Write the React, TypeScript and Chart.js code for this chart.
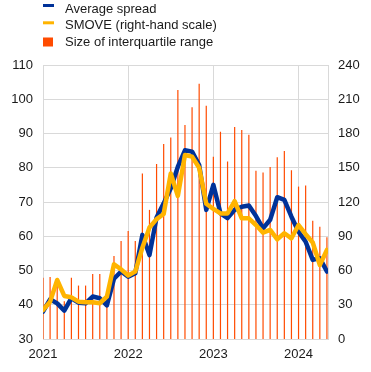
import React, { useEffect, useRef } from 'react';
import { Chart, registerables } from 'chart.js';

Chart.register(...registerables);

// Monthly observations, January 2021 .. May 2024 (index 0 = Jan 2021)
const yearTickMonths = [0, 12, 24, 36];
const yearLabels = ['2021', '2022', '2023', '2024'];

const averageSpread = [
  38.0, 41.6, 40.4, 38.3, 41.9, 40.6, 40.4, 42.4, 41.9, 39.8, 47.6, 49.7,
  48.2, 49.2, 60.4, 54.5, 65.5, 69.6, 74.0, 80.3, 85.1, 84.7, 80.8, 67.7,
  75.0, 66.7, 65.3, 67.7, 68.6, 69.0, 65.9, 62.3, 64.8, 71.4, 70.6, 65.7,
  61.3, 58.4, 53.1, 53.6, 49.7,
];

const smove = [
  25.4, 32.7, 51.7, 37.7, 36.5, 32.7, 32.1, 32.1, 31.3, 37.1, 65.5, 61.0,
  55.6, 59.0, 80.0, 97.7, 105.0, 109.5, 145.0, 125.3, 161.2, 159.7, 150.0, 118.5,
  114.0, 110.0, 110.0, 120.8, 105.7, 105.7, 99.8, 93.1, 95.5, 87.3, 92.6, 88.2,
  99.8, 91.8, 84.5, 64.8, 78.0,
];

const iqrSize = [
  47.9, 48.1, 46.0, 41.0, 47.9, 45.6, 45.6, 49.0, 49.0, 40.0, 54.2, 58.6,
  61.5, 58.6, 78.3, 67.7, 81.1, 86.9, 88.8, 102.7, 92.5, 97.7, 104.5, 98.1,
  83.2, 90.5, 81.8, 91.9, 91.0, 89.6, 79.1, 78.6, 80.2, 83.1, 84.9, 79.3,
  74.5, 74.8, 64.5, 62.8, 59.7,
];

const seriesLabels = ['Average spread', 'SMOVE (right-hand scale)', 'Size of interquartile range'];
const BLUE = '#003299';
const YELLOW = '#FFB400';
const ORANGE = '#FF4B00';
const GRID = '#d9d9d9';
const TEXT = '#1a1a1a';
const FONT_FAMILY = '"Liberation Sans", Arial, sans-serif';

const toPoints = (arr: number[]) => arr.map((v, i) => ({ x: i, y: v }));

const legendPlugin = {
  id: 'stackedLegend',
  afterDraw(chart: any) {
    const ctx = chart.ctx as CanvasRenderingContext2D;
    ctx.save();
    ctx.font = `13px ${FONT_FAMILY}`;
    ctx.textBaseline = 'alphabetic';
    const rows = [
      { label: seriesLabels[0], color: BLUE, box: [43, 4, 11, 3], base: 12.5 },
      { label: seriesLabels[1], color: YELLOW, box: [43, 21.3, 11, 3], base: 29.2 },
      { label: seriesLabels[2], color: ORANGE, box: [43, 37.5, 10, 9], base: 45.9 },
    ];
    rows.forEach((r) => {
      ctx.fillStyle = r.color;
      ctx.fillRect(r.box[0], r.box[1], r.box[2], r.box[3]);
      ctx.fillStyle = TEXT;
      ctx.fillText(r.label, 65, r.base);
    });
    ctx.restore();
  },
};

export default function App() {
  const canvasRef = useRef<HTMLCanvasElement | null>(null);

  useEffect(() => {
    document.body.style.margin = '0';
    const canvas = canvasRef.current;
    if (!canvas) return;
    const chart = new Chart(canvas, {
      type: 'line',
      data: {
        datasets: [
          {
            type: 'line',
            label: seriesLabels[0],
            data: toPoints(averageSpread),
            borderColor: BLUE,
            backgroundColor: BLUE,
            borderWidth: 4.5,
            pointRadius: 0,
            borderJoinStyle: 'round',
            borderCapStyle: 'round',
            tension: 0,
            yAxisID: 'y',
            order: 2,
          },
          {
            type: 'line',
            label: seriesLabels[1],
            data: toPoints(smove),
            borderColor: YELLOW,
            backgroundColor: YELLOW,
            borderWidth: 4.5,
            pointRadius: 0,
            borderJoinStyle: 'round',
            borderCapStyle: 'round',
            tension: 0,
            yAxisID: 'y1',
            order: 1,
          },
          {
            type: 'bar',
            label: seriesLabels[2],
            data: toPoints(iqrSize),
            backgroundColor: ORANGE,
            barThickness: 1.2,
            inflateAmount: 0,
            borderWidth: 0,
            yAxisID: 'y',
            order: 3,
          },
        ] as any,
      },
      options: {
        animation: false,
        responsive: true,
        maintainAspectRatio: false,
        layout: { padding: { top: 65, left: 0, right: 0, bottom: 0 } },
        plugins: {
          legend: { display: false },
          tooltip: { enabled: false },
        },
        scales: {
          x: {
            type: 'linear',
            min: 0,
            max: 40.15,
            offset: false,
            afterBuildTicks: (s: any) => {
              s.ticks = yearTickMonths.map((v) => ({ value: v }));
            },
            afterFit: (s: any) => {
              s.height = 33;
            },
            ticks: {
              autoSkip: false,
              maxRotation: 0,
              padding: 8,
              color: TEXT,
              font: { size: 13, family: FONT_FAMILY },
              callback: (v: any) => {
                const idx = yearTickMonths.indexOf(Number(v));
                return idx >= 0 ? yearLabels[idx] : '';
              },
            },
            grid: { color: GRID, drawTicks: false, lineWidth: 1, offset: false },
            border: { display: true, color: GRID },
          },
          y: {
            position: 'left',
            min: 30,
            max: 110,
            afterFit: (s: any) => {
              s.width = 43;
            },
            ticks: {
              stepSize: 10,
              padding: 10,
              color: TEXT,
              font: { size: 13, family: FONT_FAMILY },
            },
            grid: { color: GRID, drawTicks: false, lineWidth: 1 },
            border: { display: false },
          },
          y1: {
            position: 'right',
            min: 0,
            max: 240,
            afterFit: (s: any) => {
              s.width = 43;
            },
            ticks: {
              stepSize: 30,
              padding: 10,
              color: TEXT,
              font: { size: 13, family: FONT_FAMILY },
            },
            grid: { display: false, drawTicks: false },
            border: { display: true, color: GRID },
          },
        },
      } as any,
      plugins: [legendPlugin],
    });
    return () => chart.destroy();
  }, []);

  return (
    <div style={{ position: 'absolute', left: 0, top: 0, width: 371, height: 372 }}>
      <canvas ref={canvasRef} />
    </div>
  );
}
